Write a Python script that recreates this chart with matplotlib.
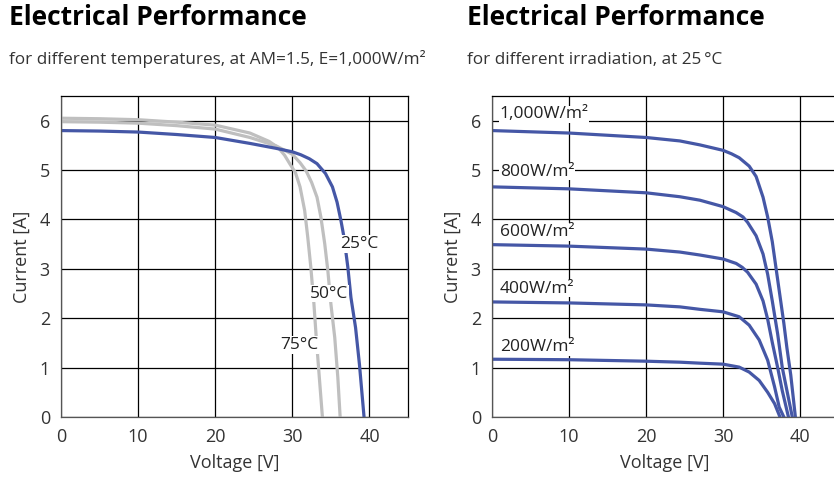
import matplotlib
matplotlib.use("Agg")
import matplotlib.pyplot as plt

BLUE = "#4557a6"
GREY = "#bfbfbf"

# left panel: I-V curves at different temperatures (E = 1000 W/m2)
v_25 = [0, 5, 10, 15, 20, 24.5, 27.9, 30, 31.1, 32.2, 33.2, 34.3, 35.2, 35.8, 36.3, 36.7, 37.2, 37.6, 38.2, 38.7, 39.3]
i_25 = [5.80, 5.79, 5.77, 5.72, 5.66, 5.54, 5.44, 5.37, 5.31, 5.23, 5.13, 4.93, 4.66, 4.35, 3.98, 3.64, 3.03, 2.42, 1.81, 1.07, 0.00]

v_50 = [0, 5, 10, 15, 20, 24.5, 27.9, 30.0, 31.0, 31.8, 32.5, 33.2, 33.7, 34.2, 34.6, 35.0, 35.5, 35.9, 36.2]
i_50 = [5.98, 5.97, 5.95, 5.90, 5.83, 5.66, 5.49, 5.32, 5.15, 4.98, 4.75, 4.45, 4.05, 3.51, 2.97, 2.29, 1.61, 0.80, 0.00]

v_75 = [0, 5, 10, 15, 20, 24.5, 27.0, 28.2, 29.0, 29.7, 30.4, 31.0, 31.6, 32.0, 32.4, 32.8, 33.1, 33.5, 33.9]
i_75 = [6.05, 6.04, 6.02, 5.97, 5.91, 5.75, 5.58, 5.45, 5.30, 5.12, 4.95, 4.66, 4.18, 3.64, 3.03, 2.29, 1.61, 0.80, 0.00]

temp_labels = ["25°C", "50°C", "75°C"]
temp_label_pos = [(38.7, 3.5), (34.8, 2.5), (30.9, 1.46)]

# right panel: I-V curves at different irradiation (25 °C)
v_1000 = [0, 10, 20, 24.4, 27, 30, 31.1, 32.1, 33.4, 34.3, 35.2, 35.8, 36.4, 36.9, 37.4, 37.9, 38.3, 38.8, 39.4]
i_1000 = [5.80, 5.75, 5.66, 5.59, 5.51, 5.40, 5.33, 5.25, 5.08, 4.87, 4.45, 4.05, 3.55, 3.00, 2.45, 1.90, 1.40, 0.85, 0.00]

v_800 = [0, 10, 20, 24.4, 27, 30, 31.7, 32.6, 33.2, 34.3, 35.2, 35.8, 36.4, 37.1, 37.7, 38.4, 39.0]
i_800 = [4.66, 4.62, 4.54, 4.46, 4.39, 4.26, 4.14, 4.05, 3.94, 3.67, 3.30, 2.89, 2.35, 1.68, 1.00, 0.46, 0.00]

v_600 = [0, 10, 20, 24.4, 27, 30, 31.7, 32.5, 33.2, 34.3, 35.2, 35.8, 36.4, 37.1, 37.7, 38.5]
i_600 = [3.49, 3.46, 3.40, 3.34, 3.28, 3.20, 3.11, 3.03, 2.93, 2.69, 2.35, 1.98, 1.51, 1.00, 0.53, 0.00]

v_400 = [0, 10, 20, 24.4, 27, 30, 32.1, 33.4, 34.7, 35.8, 36.7, 37.3, 37.9]
i_400 = [2.33, 2.31, 2.27, 2.23, 2.18, 2.13, 2.03, 1.86, 1.56, 1.15, 0.61, 0.20, 0.00]

v_200 = [0, 10, 20, 24.4, 27, 30, 32.1, 33.4, 34.7, 35.8, 36.7, 37.4]
i_200 = [1.17, 1.16, 1.13, 1.11, 1.09, 1.07, 1.01, 0.91, 0.74, 0.50, 0.27, 0.00]

irr_labels = ["1,000W/m²", "800W/m²", "600W/m²", "400W/m²", "200W/m²"]
irr_label_y = [6.13, 4.97, 3.75, 2.60, 1.42]

plt.rcParams["font.family"] = ["Open Sans", "DejaVu Sans"]

fig = plt.figure(figsize=(8.34, 4.83), dpi=100)
W, H = 834, 483


def px_axes(x0, y_top, w, h):
    return fig.add_axes([x0 / W, 1 - (y_top + h) / H, w / W, h / H])


def style(ax):
    ax.set_xlim(0, 45)
    ax.set_ylim(0, 6.5)
    ax.set_xticks([0, 10, 20, 30, 40])
    ax.set_yticks([0, 1, 2, 3, 4, 5, 6])
    ax.grid(True, color="black", linewidth=0.9)
    ax.set_axisbelow(True)
    for s in ax.spines.values():
        s.set_color("black")
        s.set_linewidth(0.9)
    ax.spines["left"].set_color("#555555")
    ax.spines["bottom"].set_color("#555555")
    ax.tick_params(length=0, pad=8, colors="#333333", labelsize=13)
    ax.set_xlabel("Voltage [V]", fontsize=13, color="#333333", labelpad=6)
    ax.set_ylabel("Current [A]", fontsize=13, color="#333333", labelpad=6)


ax1 = px_axes(61, 96, 347, 321)
ax2 = px_axes(492, 96, 346.5, 321)
style(ax1)
style(ax2)

ax1.plot(v_75, i_75, color=GREY, lw=2.3, solid_joinstyle="round")
ax1.plot(v_50, i_50, color=GREY, lw=2.3, solid_joinstyle="round")
ax1.plot(v_25, i_25, color=BLUE, lw=2.3, solid_joinstyle="round")
for lab, (x, y) in zip(temp_labels, temp_label_pos):
    ax1.text(x, y, lab, fontsize=12.5, ha="center", va="center", color="#222222",
             bbox=dict(facecolor="white", edgecolor="none", pad=0.5))

for v, i in [(v_1000, i_1000), (v_800, i_800), (v_600, i_600), (v_400, i_400), (v_200, i_200)]:
    ax2.plot(v, i, color=BLUE, lw=2.3, solid_joinstyle="round")
for lab, y in zip(irr_labels, irr_label_y):
    ax2.text(1.0, y, lab, fontsize=12.5, ha="left", va="center", color="#222222",
             bbox=dict(facecolor="white", edgecolor="none", pad=0.5))

for x0, sub in [(9, "for different temperatures, at AM=1.5, E=1,000W/m²"),
                (467, "for different irradiation, at 25\u2009°C")]:
    fig.text(x0 / W, 1 - 25 / H, "Electrical Performance", fontsize=19,
             fontweight="bold", va="baseline", ha="left", color="black")
    fig.text(x0 / W, 1 - 64 / H, sub, fontsize=12.3, va="baseline", ha="left",
             color="#333333")

fig.savefig("out.png", dpi=100)
